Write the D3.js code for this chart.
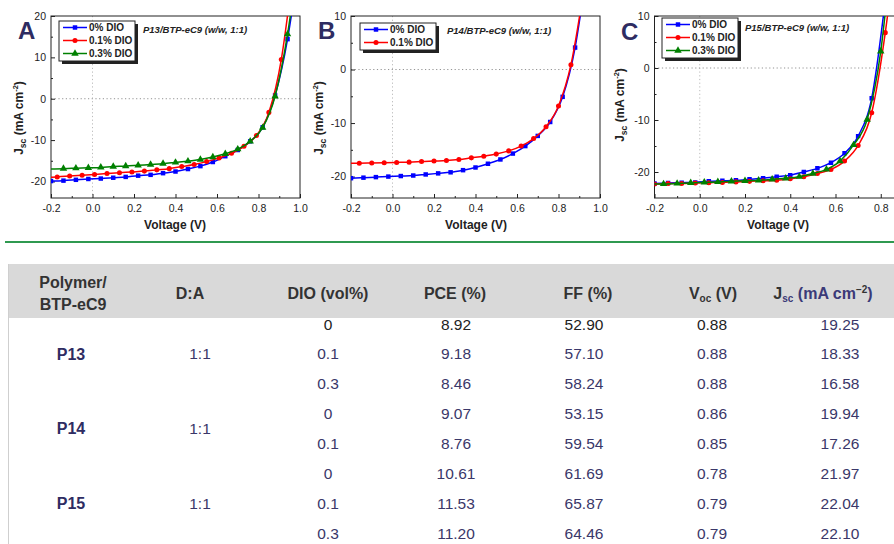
<!DOCTYPE html>
<html>
<head>
<meta charset="utf-8">
<script src="https://cdn.jsdelivr.net/npm/d3@7"></script>
<style>
body { margin: 0; background: #fff; }
svg text { font-family: "Liberation Sans", Arial, sans-serif; }
</style>
</head>
<body>
<script>
// J-V data: voltage (V), current density (mA cm-2)
// panel A, P13/BTP-eC9
var aV0 = [-0.2,-0.14,-0.08,-0.02,0.04,0.1,0.16,0.22,0.28,0.34,0.4,0.46,0.52,0.58,0.64,0.7,0.76,0.82,0.88,0.94,0.97];
var aJ0 = [-19.9,-19.8,-19.6,-19.4,-19.3,-19.1,-18.9,-18.6,-18.4,-18.0,-17.6,-17.0,-16.3,-15.3,-13.9,-12.4,-10.3,-6.9,0.8,14.4,24];
var aV1 = [-0.21,-0.17,-0.11,-0.05,0.01,0.07,0.13,0.19,0.25,0.31,0.37,0.43,0.49,0.55,0.61,0.67,0.73,0.79,0.85,0.91,0.95];
var aJ1 = [-19.0,-18.9,-18.7,-18.5,-18.3,-18.1,-17.9,-17.7,-17.5,-17.2,-16.9,-16.4,-15.9,-15.2,-14.3,-13.2,-11.5,-8.9,-3.3,9.5,24];
var aV2 = [-0.21,-0.14,-0.08,-0.02,0.04,0.1,0.16,0.22,0.28,0.34,0.4,0.46,0.52,0.58,0.64,0.7,0.76,0.82,0.88,0.94,0.965];
var aJ2 = [-17.0,-16.9,-16.8,-16.7,-16.6,-16.4,-16.3,-16.1,-15.9,-15.7,-15.4,-15.1,-14.7,-14.1,-13.3,-12.2,-10.3,-7.0,0.6,15.6,24];
// panel B, P14/BTP-eC9
var bV0 = [-0.2,-0.14,-0.08,-0.02,0.04,0.1,0.16,0.22,0.28,0.34,0.4,0.46,0.52,0.58,0.64,0.7,0.76,0.82,0.88,0.92];
var bJ0 = [-20.3,-20.2,-20.1,-20.0,-19.9,-19.8,-19.6,-19.4,-19.2,-18.8,-18.3,-17.6,-16.8,-15.7,-14.3,-12.4,-9.8,-5.1,4.1,14];
var bV1 = [-0.21,-0.16,-0.1,-0.04,0.02,0.08,0.14,0.2,0.26,0.32,0.38,0.44,0.5,0.56,0.62,0.68,0.74,0.8,0.86,0.92];
var bJ1 = [-17.5,-17.5,-17.45,-17.4,-17.35,-17.3,-17.2,-17.1,-17.0,-16.8,-16.5,-16.2,-15.8,-15.2,-14.3,-12.9,-10.7,-6.8,0.9,14.5];
// panel C, P15/BTP-eC9
var cV0 = [-0.2,-0.14,-0.08,-0.02,0.04,0.1,0.16,0.22,0.28,0.34,0.4,0.46,0.52,0.58,0.64,0.7,0.76,0.82];
var cJ0 = [-22.2,-22.1,-22.05,-22.0,-21.8,-21.7,-21.6,-21.4,-21.2,-20.9,-20.6,-20.0,-19.3,-18.2,-16.4,-13.1,-5.8,13];
var cV1 = [-0.2,-0.14,-0.08,-0.02,0.04,0.1,0.16,0.22,0.28,0.34,0.4,0.46,0.52,0.58,0.64,0.7,0.76,0.82,0.85];
var cJ1 = [-22.3,-22.2,-22.2,-22.1,-22.05,-22.0,-21.9,-21.8,-21.7,-21.6,-21.3,-20.9,-20.3,-19.5,-17.9,-14.9,-8.6,6.8,17];
var cV2 = [-0.21,-0.16,-0.1,-0.04,0.02,0.08,0.14,0.2,0.26,0.32,0.38,0.44,0.5,0.56,0.62,0.68,0.74,0.8,0.84];
var cJ2 = [-22.3,-22.3,-22.2,-22.1,-22.0,-21.9,-21.8,-21.7,-21.6,-21.4,-21.2,-20.9,-20.3,-19.5,-17.9,-14.8,-9.9,3.2,19];

var seriesNames = ['0% DIO', '0.1% DIO', '0.3% DIO'];
var xTicks = [-0.2, 0.0, 0.2, 0.4, 0.6, 0.8, 1.0];
var xTicksC = [-0.2, 0.0, 0.2, 0.4, 0.6, 0.8];

// table values
var tableHead = ['D:A', 'DIO (vol%)', 'PCE (%)', 'FF (%)'];
var polymers = ['P13', 'P14', 'P15'];
var rowPolymer = ['P13','P13','P13','P14','P14','P15','P15','P15'];
var ratio = ['1:1', '1:1', '1:1'];
var dio = ['0','0.1','0.3','0','0.1','0','0.1','0.3'];
var pce = ['8.92','9.18','8.46','9.07','8.76','10.61','11.53','11.20'];
var ff = ['52.90','57.10','58.24','53.15','59.54','61.69','65.87','64.46'];
var voc = ['0.88','0.88','0.88','0.86','0.85','0.78','0.79','0.79'];
var jsc = ['19.25','18.33','16.58','19.94','17.26','21.97','22.04','22.10'];

var colors = ['#0000ff', '#ff0000', '#008000'];
var shapes = [d3.symbolSquare, d3.symbolCircle, d3.symbolTriangle];
var shapeSize = [20, 20, 24];
var navy = '#2e2c62';

var svg = d3.select('body')
    .append('svg')
    .attr('width', 894)
    .attr('height', 544);

function zip(v, j) { return v.map((d, i) => ({v: d, j: j[i]})); }

var panels = [
    {id: 'A', left: 51, right: 300, xMax: 1.0, ticks: xTicks, yDom: [-24, 20], yTicks: [-20, -10, 0, 10, 20],
     series: [zip(aV0, aJ0), zip(aV1, aJ1), zip(aV2, aJ2)],
     title: 'P13/BTP-eC9 (w/w, 1:1)', titleX: 143, titleY: 33, letterX: 18, letterY: 39,
     leg: [59, 21], yTitle: [19, 118], xTitle: 175},
    {id: 'B', left: 351, right: 600, xMax: 1.0, ticks: xTicks, yDom: [-24, 10], yTicks: [-20, -10, 0, 10],
     series: [zip(bV0, bJ0), zip(bV1, bJ1)],
     title: 'P14/BTP-eC9 (w/w, 1:1)', titleX: 447, titleY: 34, letterX: 318, letterY: 39,
     leg: [360, 23], yTitle: [319, 118], xTitle: 476},
    {id: 'C', left: 654.5, right: 926, xMax: 1.0, ticks: xTicksC, yDom: [-25, 10], yTicks: [-20, -10, 0, 10],
     series: [zip(cV0, cJ0), zip(cV1, cJ1), zip(cV2, cJ2)],
     title: 'P15/BTP-eC9 (w/w, 1:1)', titleX: 745, titleY: 31, letterX: 621, letterY: 40,
     leg: [662, 18], yTitle: [620, 105], xTitle: 778}
];

var plotTop = 16, plotBottom = 198;

panels.forEach(function(p) {
    var x = d3.scaleLinear().domain([-0.2, p.xMax]).range([p.left, p.right]);
    var y = d3.scaleLinear().domain(p.yDom).range([plotBottom, plotTop]);
    var g = svg.append('g');

    g.append('clipPath').attr('id', 'clip' + p.id)
        .append('rect')
        .attr('x', p.left).attr('y', plotTop)
        .attr('width', p.right - p.left).attr('height', plotBottom - plotTop);

    //zero lines
    g.append('line')
        .attr('x1', p.left).attr('x2', p.right)
        .attr('y1', y(0)).attr('y2', y(0))
        .attr('stroke', '#777').attr('stroke-width', 0.8)
        .attr('stroke-dasharray', '1.2,2.5');
    g.append('line')
        .attr('x1', x(0)).attr('x2', x(0))
        .attr('y1', plotTop).attr('y2', plotBottom)
        .attr('stroke', '#aaa').attr('stroke-width', 0.8)
        .attr('stroke-dasharray', '1.2,2.5');

    //axes, ticks inward
    g.append('g')
        .attr('transform', 'translate(0,' + plotBottom + ')')
        .call(d3.axisBottom(x).tickValues(p.ticks).tickSize(-4).tickPadding(7)
            .tickFormat(d => d.toFixed(1)));
    g.append('g')
        .attr('transform', 'translate(0,' + plotBottom + ')')
        .call(d3.axisBottom(x).tickValues(d3.range(-0.1, p.xMax, 0.2)).tickSize(-2).tickFormat(''));
    g.append('g')
        .attr('transform', 'translate(' + p.left + ',0)')
        .call(d3.axisLeft(y).tickValues(p.yTicks).tickSize(-4).tickPadding(5)
            .tickFormat(d => String(d)));
    g.append('g')
        .attr('transform', 'translate(' + p.left + ',0)')
        .call(d3.axisLeft(y).tickValues(p.yTicks.map(d => d - 5).filter(d => d > p.yDom[0])).tickSize(-2).tickFormat(''));
    g.selectAll('.domain').remove();
    g.selectAll('.tick line').attr('stroke', '#222');
    g.selectAll('.tick text')
        .style('font-family', '"Liberation Sans", Arial, sans-serif')
        .style('font-size', '10.5px')
        .attr('fill', '#222');

    //frame
    g.append('rect')
        .attr('x', p.left).attr('y', plotTop)
        .attr('width', p.right - p.left).attr('height', plotBottom - plotTop)
        .attr('fill', 'none').attr('stroke', '#222').attr('stroke-width', 1);

    //curves
    var line = d3.line().x(d => x(d.v)).y(d => y(d.j)).curve(d3.curveMonotoneX);
    var curves = g.append('g').attr('clip-path', 'url(#clip' + p.id + ')');
    p.series.forEach(function(s, k) {
        curves.append('path')
            .datum(s)
            .attr('d', line)
            .attr('fill', 'none')
            .attr('stroke', colors[k])
            .attr('stroke-width', 1.5);
        curves.selectAll('.m' + k)
            .data(s.filter(d => d.v >= -0.2 && d.j <= p.yDom[1]))
            .enter().append('path')
            .attr('d', d3.symbol().type(shapes[k]).size(shapeSize[k]))
            .attr('transform', d => 'translate(' + x(d.v) + ',' + y(d.j) + ')')
            .attr('fill', colors[k]);
    });

    //letter and title
    g.append('text').text(p.id)
        .attr('x', p.letterX).attr('y', p.letterY)
        .style('font-size', '24px').style('font-weight', 'bold')
        .attr('fill', navy);
    g.append('text').text(p.title)
        .attr('x', p.titleX).attr('y', p.titleY)
        .style('font-size', '9.5px').style('font-weight', 'bold').style('font-style', 'italic')
        .attr('fill', '#222');

    //axis titles
    g.append('text').text('Voltage (V)')
        .attr('x', p.xTitle).attr('y', 229)
        .attr('text-anchor', 'middle')
        .style('font-size', '12px').style('font-weight', 'bold').attr('fill', '#222');
    var yt = g.append('text')
        .attr('transform', 'translate(' + p.yTitle[0] + ',' + p.yTitle[1] + ') rotate(-90)')
        .attr('text-anchor', 'middle')
        .attr('dy', '0.35em')
        .style('font-size', '12px').style('font-weight', 'bold').attr('fill', '#222');
    yt.append('tspan').text('J');
    yt.append('tspan').text('sc').attr('dy', 3).style('font-size', '8.5px');
    yt.append('tspan').text(' (mA cm').attr('dy', -3);
    yt.append('tspan').text('-2').attr('dy', -5).style('font-size', '7.5px');
    yt.append('tspan').text(')').attr('dy', 5);

    //legend
    var n = p.series.length;
    var lw = 76, lh = n * 13 + 1;
    var leg = g.append('g').attr('transform', 'translate(' + p.leg[0] + ',' + p.leg[1] + ')');
    leg.append('rect').attr('x', 3).attr('y', 3).attr('width', lw).attr('height', lh).attr('fill', '#222');
    leg.append('rect').attr('width', lw).attr('height', lh)
        .attr('fill', '#fff').attr('stroke', '#222').attr('stroke-width', 1);
    p.series.forEach(function(s, k) {
        var cy = 6.5 + k * 13;
        leg.append('line').attr('x1', 4).attr('x2', 28).attr('y1', cy).attr('y2', cy)
            .attr('stroke', colors[k]).attr('stroke-width', 1.5);
        leg.append('path')
            .attr('d', d3.symbol().type(shapes[k]).size(shapeSize[k]))
            .attr('transform', 'translate(16,' + cy + ')')
            .attr('fill', colors[k]);
        leg.append('text').text(seriesNames[k])
            .attr('x', 30).attr('y', cy + 3.5)
            .style('font-size', '10px').style('font-weight', 'bold').attr('fill', '#222');
    });
});

//separator
svg.append('line')
    .attr('x1', 5).attr('x2', 894).attr('y1', 242).attr('y2', 242)
    .attr('stroke', '#2f9950').attr('stroke-width', 2);

//table
var headTop = 264, headBottom = 318;
svg.append('rect')
    .attr('x', 8).attr('y', headTop).attr('width', 886).attr('height', headBottom - headTop)
    .attr('fill', '#d9d9d9');
svg.append('line')
    .attr('x1', 8.5).attr('x2', 8.5).attr('y1', headTop).attr('y2', 544)
    .attr('stroke', '#cfcfcf').attr('stroke-width', 1);

var headX = [190, 328, 455, 588];
var headStyle = function(t) {
    return t.style('font-size', '16px').style('font-weight', 'bold').attr('fill', '#333');
};
headStyle(svg.append('text').text('Polymer/').attr('x', 73).attr('y', 288).attr('text-anchor', 'middle'));
headStyle(svg.append('text').text('BTP-eC9').attr('x', 73).attr('y', 310).attr('text-anchor', 'middle'));
tableHead.forEach(function(h, i) {
    headStyle(svg.append('text').text(h).attr('x', headX[i]).attr('y', 299).attr('text-anchor', 'middle'));
});
var vh = headStyle(svg.append('text').attr('x', 713).attr('y', 299).attr('text-anchor', 'middle'));
vh.append('tspan').text('V');
vh.append('tspan').text('oc').attr('dy', 3).style('font-size', '10px');
vh.append('tspan').text(' (V)').attr('dy', -3);
var jh = headStyle(svg.append('text').attr('x', 823).attr('y', 299).attr('text-anchor', 'middle'));
jh.append('tspan').text('J');
jh.append('tspan').text('sc').attr('dy', 3).style('font-size', '10px').attr('fill', '#3b3a78');
jh.append('tspan').text(' (mA cm').attr('dy', -3).attr('fill', '#3b3a78');
jh.append('tspan').text('\u22122').attr('dy', -6).style('font-size', '10px');
jh.append('tspan').text(')').attr('dy', 6).attr('fill', '#3b3a78');

var rowY = d3.scalePoint().domain(d3.range(dio.length)).range([324, 533]);
var cols = [{x: 328, vals: dio}, {x: 456, vals: pce}, {x: 584, vals: ff}, {x: 712, vals: voc}, {x: 840, vals: jsc}];
cols.forEach(function(c, ci) {
    svg.selectAll(null)
        .data(c.vals)
        .enter().append('text')
        .text(d => d)
        .attr('x', c.x)
        .attr('y', (d, i) => rowY(i))
        .attr('dy', '0.36em')
        .attr('text-anchor', 'middle')
        .style('font-size', '15.5px')
        .attr('fill', (d, i) => (i === 0 && ci < 4) ? '#222' : '#3a3769');
});

polymers.forEach(function(pn, k) {
    var ys = d3.range(rowPolymer.length).filter(i => rowPolymer[i] === pn).map(rowY);
    var cy = d3.mean(ys);
    svg.append('text').text(pn)
        .attr('x', 71).attr('y', cy).attr('dy', '0.36em')
        .attr('text-anchor', 'middle')
        .style('font-size', '16px').style('font-weight', 'bold')
        .attr('fill', navy);
    svg.append('text').text(ratio[k])
        .attr('x', 200).attr('y', cy).attr('dy', '0.36em')
        .attr('text-anchor', 'middle')
        .style('font-size', '15.5px')
        .attr('fill', '#3a3769');
});
</script>
</body>
</html>
